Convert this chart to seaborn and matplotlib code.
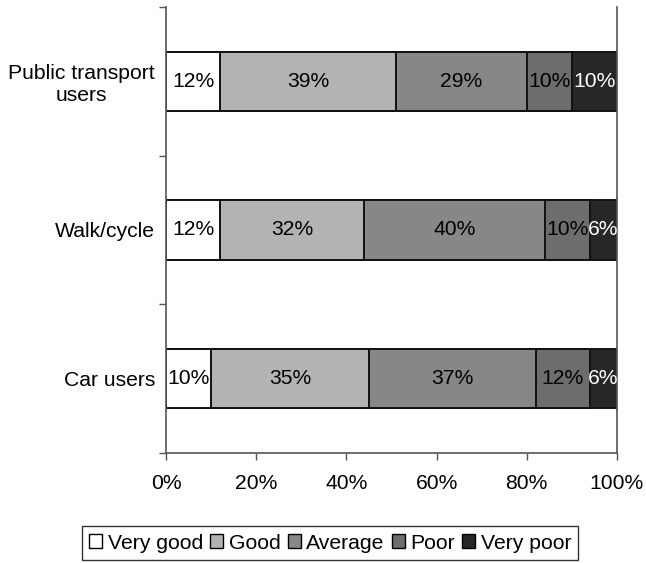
import numpy as np
import pandas as pd
import seaborn as sns
import matplotlib.pyplot as plt
from matplotlib.patches import Patch

groups = ['Public transport\nusers', 'Walk/cycle', 'Car users']
levels = ['Very good', 'Good', 'Average', 'Poor', 'Very poor']
very_good = [12, 12, 10]
good = [39, 32, 35]
average = [29, 40, 37]
poor = [10, 10, 12]
very_poor = [10, 6, 6]

colors = ['#ffffff', '#b3b3b3', '#878787', '#6d6d6d', '#272727']
text_colors = ['black', 'black', 'black', 'black', 'white']

sns.set_style('white')
plt.rcParams['font.family'] = ['Liberation Sans', 'DejaVu Sans']
plt.rcParams['text.color'] = 'black'
plt.rcParams['xtick.color'] = '#555555'
plt.rcParams['ytick.color'] = '#555555'
plt.rcParams['xtick.labelcolor'] = 'black'
plt.rcParams['ytick.labelcolor'] = 'black'
fs = 15.2

df = pd.DataFrame({'group': groups, 'Very good': very_good, 'Good': good,
                   'Average': average, 'Poor': poor, 'Very poor': very_poor})
cum = df[levels].cumsum(axis=1)

fig = plt.figure(figsize=(6.46, 5.63), dpi=100)
ax = fig.add_axes([0.257, 0.1954, 0.698, 0.7922])

# overlapping cumulative bars, widest first
for lvl, col in reversed(list(zip(levels, colors))):
    sns.barplot(x=cum[lvl], y=df['group'], color=col, edgecolor='#111111',
                linewidth=1.4, width=0.4, orient='h', saturation=1, ax=ax)

for i in range(len(groups)):
    for j, lvl in enumerate(levels):
        v = df.loc[i, lvl]
        center = cum.loc[i, lvl] - v / 2
        ax.text(center, i, f'{v}%', ha='center', va='center',
                fontsize=fs, color=text_colors[j])

ax.set_xlim(0, 100)
ax.set_ylim(2.5, -0.5)
ax.set_xticks(np.arange(0, 101, 20))
ax.set_xticklabels([f'{t}%' for t in range(0, 101, 20)], fontsize=fs)
ax.set_yticks([-0.5, 0.5, 1.5, 2.5])
ax.set_yticklabels([])
ax.set_yticks(range(len(groups)), minor=True)
ax.set_yticklabels(groups, minor=True, fontsize=fs, multialignment='center')
ax.tick_params(axis='y', which='minor', left=False, length=0, pad=8)
ax.tick_params(axis='y', which='major', left=True, length=5, width=1, direction='out')
ax.tick_params(axis='x', bottom=True, length=5, width=1, direction='out', pad=10)
ax.set_xlabel('')
ax.set_ylabel('')

for s in ['left', 'bottom', 'right']:
    ax.spines[s].set_color('#555555')
    ax.spines[s].set_linewidth(1.2)
ax.spines['top'].set_visible(False)

handles = [Patch(facecolor=c, edgecolor='black', linewidth=1) for c in colors]
leg = fig.legend(handles, levels, loc='center', bbox_to_anchor=(0.511, 0.0355),
                 ncol=5, fontsize=fs, frameon=True, fancybox=False,
                 handlelength=0.62, handleheight=0.62, handletextpad=0.25,
                 columnspacing=0.35, borderpad=0.35, borderaxespad=0)
leg.get_frame().set_edgecolor('black')
leg.get_frame().set_linewidth(1)

fig.savefig('out.png', dpi=100)
